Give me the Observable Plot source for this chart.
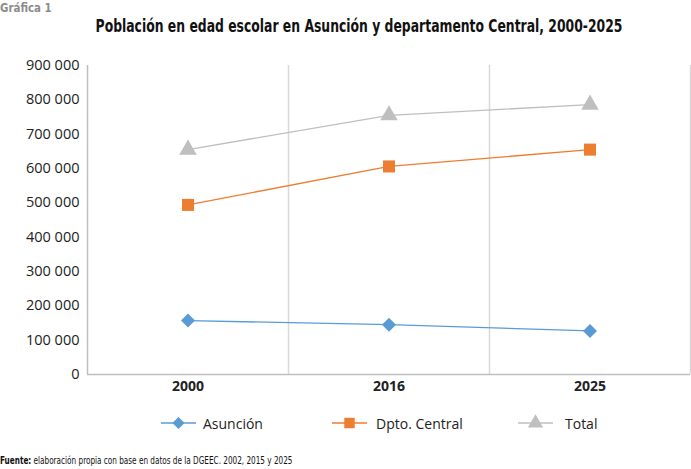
<!DOCTYPE html>
<html>
<head>
<meta charset="utf-8">
<script src="https://cdn.jsdelivr.net/npm/d3@7"></script>
<script src="https://cdn.jsdelivr.net/npm/@observablehq/plot@0.6"></script>
<style>
  body { margin: 0; background: #fff; }
  #wrap { position: relative; width: 691px; height: 469px; overflow: hidden; font-family: "Open Sans", sans-serif; }
  #wrap svg.plot { position: absolute; left: 0; top: 0; }
  .abs { position: absolute; white-space: nowrap; }
  #label { left: 0; top: 1px; font: bold 12px "DejaVu Sans Condensed", sans-serif; color: #8c8c8c; transform-origin: 0 0; transform: scaleX(0.95); }
  #title { left: 358.5px; top: 16px; font: bold 17px "DejaVu Sans Condensed", sans-serif; color: #111; transform: translateX(-50%) scaleX(0.81); }
  #source { left: 0; top: 455px; font: 10px "DejaVu Sans Condensed", sans-serif; color: #111; transform-origin: 0 0; transform: scaleX(0.81); }
  .leg { position: absolute; top: 413px; height: 20px; display: flex; align-items: center; font: 14px "Open Sans", sans-serif; color: #222; }
</style>
</head>
<body>
<div id="wrap">
  <div id="label" class="abs">Gráfica 1</div>
  <div id="title" class="abs">Población en edad escolar en Asunción y departamento Central, 2000-2025</div>
  <div id="source" class="abs"><b>Fuente:</b> elaboración propia con base en datos de la DGEEC. 2002, 2015 y 2025</div>
</div>
<script>
const years = ["2000", "2016", "2025"];
const asuncion = [157000, 145000, 127000];
const central = [494000, 606000, 655000];
const total = [655000, 755000, 786000];
const seriesNames = ["Asunción", "Dpto. Central", "Total"];
const seriesColors = ["#5b9bd5", "#ed7d31", "#bfbfbf"];
const seriesSymbols = ["diamond2", "square", "triangle"];
const seriesR = [6.3, 6.8, 6.5];
const yTicks = [0, 100000, 200000, 300000, 400000, 500000, 600000, 700000, 800000, 900000];

const seriesValues = [asuncion, central, total];
const rows = seriesValues.flatMap((vals, s) => vals.map((v, i) => ({series: seriesNames[s], pos: i + 0.5, year: years[i], value: v})));

const fmt = d => d3.format(",")(d).replace(/,/g, " ");

const marks = [
  Plot.ruleX([1, 2, 3], {stroke: "#d9d9d9", strokeWidth: 1.5}),
  Plot.ruleX([0], {stroke: "#bfbfbf", strokeWidth: 1.5}),
  Plot.ruleY([0], {stroke: "#bfbfbf", strokeWidth: 1.5}),
  Plot.axisY({ticks: yTicks, tickFormat: fmt, tickSize: 0, tickPadding: 8, fontSize: 14.5, label: null, fill: "#222"}),
  Plot.text(years, {x: (d, i) => i + 0.5, y: () => 0, dy: 12, text: d => d, fontWeight: "bold", fontSize: 14, fill: "#222"})
];
seriesNames.forEach((name, s) => {
  const data = rows.filter(r => r.series === name);
  marks.push(Plot.line(data, {x: "pos", y: "value", stroke: seriesColors[s], strokeWidth: 1.3}));
  marks.push(Plot.dot(data, {x: "pos", y: "value", symbol: () => seriesSymbols[s], fill: seriesColors[s], stroke: "none", r: seriesR[s]}));
});

const chart = Plot.plot({
  width: 691,
  height: 469,
  marginTop: 65,
  marginBottom: 95,
  marginLeft: 87,
  marginRight: 1,
  style: {fontFamily: "'Open Sans', sans-serif", background: "transparent"},
  x: {type: "linear", domain: [0, 3], axis: null},
  y: {domain: [0, 900000], axis: null},
  symbol: {type: "identity"},
  marks
});
chart.classList.add("plot");
const wrap = document.getElementById("wrap");
wrap.insertBefore(chart, wrap.firstChild);

// legend
const legX = [161, 332, 518];
const legGap = [7, 9, 12];
seriesNames.forEach((name, s) => {
  const div = document.createElement("div");
  div.className = "leg";
  div.style.left = legX[s] + "px";
  const sw = d3.create("svg").attr("width", 35).attr("height", 20).style("margin-right", legGap[s] + "px");
  sw.append("line").attr("x1", 0).attr("x2", 35).attr("y1", 10).attr("y2", 10).attr("stroke", seriesColors[s]).attr("stroke-width", 1.3);
  const sym = {diamond2: d3.symbolDiamond2, square: d3.symbolSquare, triangle: d3.symbolTriangle}[seriesSymbols[s]];
  sw.append("path").attr("transform", "translate(17.5,10)").attr("d", d3.symbol(sym, Math.PI * seriesR[s] * seriesR[s] * 0.75)()).attr("fill", seriesColors[s]);
  div.appendChild(sw.node());
  const t = document.createElement("span");
  t.textContent = name;
  div.appendChild(t);
  wrap.appendChild(div);
});
</script>
</body>
</html>
